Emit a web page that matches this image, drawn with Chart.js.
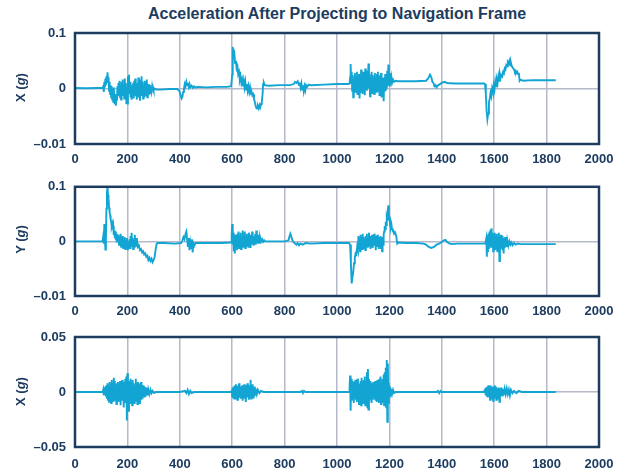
<!DOCTYPE html>
<html>
<head>
<meta charset="utf-8">
<script src="https://cdn.jsdelivr.net/npm/chart.js@4/dist/chart.umd.min.js"></script>
<style>
  body { margin: 0; background: #fff; }
  #wrap { position: relative; width: 626px; height: 476px; font-family: "Liberation Sans", Arial, sans-serif; color: #1d3c60; }
  canvas { position: absolute; left: 0; }
  .title { position: absolute; top: 5px; left: 75px; width: 524px; text-align: center; font-weight: bold; font-size: 16px; }
  .ylab { position: absolute; width: 80px; text-align: center; font-weight: bold; font-size: 13px; transform: rotate(-90deg); }
</style>
</head>
<body>
<div id="wrap">
  <div class="title">Acceleration After Projecting to Navigation Frame</div>
  <canvas id="c1" width="626" height="170" style="top:0"></canvas>
  <canvas id="c2" width="626" height="150" style="top:170px"></canvas>
  <canvas id="c3" width="626" height="156" style="top:320px"></canvas>
  <div class="ylab" style="left:-20px;top:80px">X (<i>g</i>)</div>
  <div class="ylab" style="left:-20px;top:232px">Y (<i>g</i>)</div>
  <div class="ylab" style="left:-20px;top:384px">X (<i>g</i>)</div>
</div>
<script>
// x ticks shared by all three panels
const xTickLabels = ['0','200','400','600','800','1000','1200','1400','1600','1800','2000'];
// y tick labels, bottom -> top (as printed on the original)
const yLabelsTop = ['–0.01', '0', '0.1'];
const yLabelsMid = ['–0.01', '0', '0.1'];
const yLabelsBottom = ['–0.05', '0', '0.05'];

// [sample, value]
const seriesTop = [
  [0,0.001],[40,0.0005],[80,0.001],[105,0.001],
  [108,0.004],[110,-0.006],[112,0.012],[114,0.002],[116,0.018],[118,0.006],[120,0.022],[122,0.010],[124,0.029],[126,0.015],[128,0.020],[130,-0.004],
  [132,0.012],[134,-0.010],[136,0.006],[138,-0.016],[140,0.004],[142,-0.020],[144,-0.002],[146,-0.024],[148,0.002],[150,-0.018],[152,-0.028],[154,-0.010],
  [156,-0.031],[158,-0.012],[160,-0.022],[162,0.004],[164,-0.014],[166,0.010],[168,-0.008],[170,0.014],[172,-0.016],[174,0.006],[176,-0.020],[178,0.012],
  [180,-0.006],[182,0.016],[184,-0.012],[186,0.008],[188,-0.018],[190,0.018],[192,-0.010],[194,0.010],[196,-0.026],[198,0.004],[200,-0.027],[202,0.022],
  [204,-0.008],[206,0.025],[208,-0.004],[210,0.012],[212,-0.016],[214,0.006],[216,-0.020],[218,0.002],[220,-0.012],[222,0.010],[224,-0.018],[226,0.014],
  [228,-0.006],[230,0.018],[232,-0.014],[234,0.004],[236,-0.020],[238,0.010],[240,-0.010],[242,0.020],[244,-0.016],[246,0.008],[248,-0.022],[250,0.016],
  [252,-0.006],[254,0.022],[256,-0.012],[258,0.012],[260,-0.018],[262,0.006],[264,-0.014],[266,0.014],[268,-0.008],[270,0.010],[272,-0.012],[274,0.016],
  [276,-0.016],[278,0.006],[280,-0.010],[282,0.008],[284,-0.006],[286,0.006],[288,-0.008],[290,0.004],[292,-0.004],[294,0.003],[296,-0.004],[298,0.001],
  [300,-0.003],[304,0.000],[310,-0.002],[330,-0.002],[360,-0.001],[390,-0.001],
  [398,-0.004],[403,-0.012],[407,-0.018],[410,-0.015],[413,-0.006],[416,0.000],[419,0.008],[422,0.004],[425,0.012],[428,0.006],[431,0.010],[434,0.003],
  [437,0.008],[440,0.002],[445,0.005],[450,0.001],[455,0.004],[460,0.002],[470,0.003],[500,0.002],[540,0.003],[580,0.003],[596,0.004],
  [600,0.025],[602,0.075],[605,0.060],[608,0.064],[611,0.046],[614,0.050],[617,0.036],[620,0.040],[623,0.026],[626,0.030],[629,0.016],[632,0.022],
  [635,0.010],[638,0.016],[641,0.004],[644,0.014],[647,0.002],[650,0.012],[653,-0.002],[656,0.008],[659,-0.004],[662,0.004],[665,-0.006],[668,0.002],
  [671,-0.008],[674,-0.006],[677,-0.012],[680,-0.010],[683,-0.018],[686,-0.024],[689,-0.030],[692,-0.035],[695,-0.036],[698,-0.032],[701,-0.036],
  [704,-0.030],[707,-0.034],[710,-0.028],[713,-0.024],[716,-0.010],[718,0.008],[721,0.010],[724,0.006],[740,0.005],[780,0.006],[820,0.006],
  [835,0.008],[840,0.012],[845,0.010],[850,0.013],[855,0.006],[858,0.011],[861,0.002],[864,0.009],[867,-0.002],[870,0.006],[873,-0.005],[876,0.004],
  [879,-0.003],[882,0.006],[886,0.003],[892,0.007],[900,0.006],[950,0.007],[1000,0.008],[1045,0.008],
  [1048,0.009],[1050,0.020],[1052,0.044],[1054,0.010],[1056,0.030],[1058,-0.004],[1060,0.024],[1062,-0.016],[1064,0.018],[1066,0.000],[1068,0.028],
  [1070,-0.006],[1072,0.022],[1074,0.004],[1076,0.030],[1078,-0.010],[1080,0.018],[1082,-0.004],[1084,0.026],[1086,-0.018],[1088,0.014],[1090,-0.008],
  [1092,0.034],[1094,0.002],[1096,0.024],[1098,-0.010],[1100,0.030],[1102,0.000],[1104,0.020],[1106,-0.012],[1108,0.036],[1110,0.004],[1112,0.028],
  [1114,-0.004],[1116,0.032],[1118,0.000],[1120,0.045],[1122,0.006],[1124,0.026],[1126,-0.014],[1128,0.022],[1130,-0.002],[1132,0.030],[1134,-0.008],
  [1136,0.024],[1138,0.002],[1140,0.020],[1142,-0.010],[1144,0.028],[1146,0.000],[1148,0.018],[1150,-0.006],[1152,0.026],[1154,0.004],[1156,0.030],
  [1158,-0.004],[1160,0.022],[1162,-0.012],[1164,0.024],[1166,-0.002],[1168,0.028],[1170,-0.016],[1172,0.016],[1174,-0.010],[1176,0.020],[1178,-0.023],
  [1180,0.012],[1182,-0.006],[1184,0.026],[1186,-0.004],[1188,0.022],[1190,0.000],[1192,0.032],[1194,0.004],[1196,0.043],[1198,0.006],[1200,0.028],
  [1202,0.004],[1204,0.020],[1206,0.008],[1208,0.018],[1210,0.010],[1214,0.016],[1218,0.012],[1224,0.014],[1232,0.013],[1250,0.013],[1300,0.013],[1340,0.014],
  [1348,0.018],[1355,0.025],[1360,0.020],[1364,0.012],[1368,0.010],[1372,0.004],[1376,0.006],[1380,0.002],[1384,0.005],[1390,0.007],[1400,0.010],
  [1410,0.012],[1420,0.010],[1450,0.009],[1500,0.009],[1540,0.009],[1562,0.009],
  [1565,0.008],[1568,-0.010],[1571,-0.040],[1574,-0.055],[1577,-0.045],[1580,-0.025],[1583,-0.018],[1586,-0.008],[1589,-0.014],[1592,0.000],[1595,-0.006],
  [1598,0.006],[1601,-0.002],[1604,0.012],[1607,0.004],[1610,0.016],[1613,0.010],[1616,0.022],[1619,0.014],[1622,0.026],[1625,0.020],[1628,0.024],
  [1631,0.022],[1634,0.030],[1637,0.028],[1640,0.036],[1643,0.034],[1646,0.042],[1649,0.040],[1652,0.048],[1655,0.046],[1658,0.050],[1661,0.042],
  [1664,0.046],[1667,0.040],[1670,0.038],[1673,0.036],[1676,0.034],[1679,0.030],[1682,0.032],[1685,0.028],[1688,0.030],[1691,0.026],[1694,0.028],
  [1697,0.014],[1700,0.016],[1710,0.014],[1750,0.015],[1800,0.015],[1835,0.015]
];

const seriesMid = [
  [0,0.000],[50,0.000],[100,0.000],[105,0.000],[108,0.010],[110,-0.004],[112,0.032],[114,0.006],[116,-0.015],[118,0.004],[120,0.060],[122,0.090],
  [124,0.100],[126,0.085],[128,0.078],[130,0.062],[132,0.054],[134,0.048],[136,0.040],[138,0.036],[140,0.028],[142,0.032],[144,0.022],[146,0.028],
  [148,0.012],[150,0.020],[152,0.006],[154,0.018],[156,0.002],[158,0.014],[160,-0.002],[162,0.010],[164,0.000],[166,0.012],[168,-0.006],[170,0.008],
  [172,-0.004],[174,0.014],[176,-0.010],[178,0.006],[180,-0.002],[182,0.010],[184,-0.012],[186,0.004],[188,-0.008],[190,0.008],[192,-0.014],[194,0.002],
  [196,-0.010],[198,0.006],[200,-0.004],[202,-0.016],[204,0.000],[206,-0.010],[208,0.004],[210,-0.012],[212,0.010],[214,-0.006],[216,0.016],[218,-0.008],
  [220,0.006],[222,-0.014],[224,0.002],[226,-0.010],[228,0.012],[230,-0.006],[232,0.004],[234,-0.008],[236,0.006],[238,-0.004],[240,-0.010],[244,-0.008],
  [248,-0.016],[252,-0.014],[256,-0.020],[260,-0.018],[264,-0.024],[268,-0.022],[272,-0.028],[276,-0.026],[280,-0.034],[284,-0.030],[288,-0.036],
  [292,-0.032],[296,-0.038],[300,-0.034],[304,-0.028],[308,-0.014],[312,-0.004],[316,-0.003],[340,-0.003],[380,-0.004],[405,-0.003],
  [410,0.002],[414,0.008],[418,0.004],[422,0.014],[425,0.018],[428,0.004],[431,-0.010],[434,0.006],[437,-0.016],[440,-0.002],[443,-0.012],[446,0.004],
  [449,-0.020],[452,-0.004],[455,-0.008],[460,-0.003],[480,-0.003],[520,-0.003],[560,-0.003],[596,-0.002],
  [598,0.010],[600,0.032],[602,-0.006],[604,0.016],[606,-0.018],[608,0.008],[610,-0.022],[612,0.012],[614,-0.010],[616,0.006],[618,-0.016],[620,0.014],
  [622,-0.008],[624,0.018],[626,-0.012],[628,0.010],[630,-0.004],[632,0.016],[634,-0.014],[636,0.008],[638,-0.006],[640,0.020],[642,-0.010],[644,0.012],
  [646,-0.002],[648,0.018],[650,-0.012],[652,0.006],[654,-0.008],[656,0.014],[658,-0.004],[660,0.010],[662,-0.010],[664,0.016],[666,-0.002],[668,0.008],
  [670,-0.012],[672,0.012],[674,-0.006],[676,0.018],[678,-0.004],[680,0.010],[682,-0.008],[684,0.006],[686,-0.002],[688,0.014],[690,-0.006],[692,0.020],
  [694,0.000],[696,0.012],[698,-0.004],[700,0.008],[702,-0.002],[704,0.006],[706,-0.004],[708,0.004],[710,0.000],[714,0.004],[718,-0.001],[722,0.002],
  [726,0.000],[760,0.000],[800,0.000],[815,0.002],[819,0.010],[822,0.014],[826,0.008],[830,0.002],[835,-0.002],[840,-0.004],[845,-0.006],[850,-0.003],
  [855,-0.007],[860,-0.004],[870,-0.006],[880,-0.003],[900,-0.004],[950,-0.003],[1000,-0.003],[1046,-0.003],
  [1050,-0.006],[1053,-0.040],[1056,-0.077],[1059,-0.066],[1062,-0.056],[1065,-0.040],[1068,-0.030],[1071,-0.022],[1074,-0.024],[1077,-0.010],
  [1080,-0.016],[1082,0.010],[1084,-0.010],[1086,0.006],[1088,-0.018],[1090,0.012],[1092,-0.006],[1094,0.004],[1096,-0.014],[1098,0.014],[1100,-0.004],
  [1102,0.008],[1104,-0.012],[1106,0.004],[1108,-0.016],[1110,0.010],[1112,-0.002],[1114,0.014],[1116,-0.010],[1118,0.006],[1120,-0.008],[1122,0.016],
  [1124,-0.004],[1126,0.008],[1128,-0.014],[1130,0.010],[1132,-0.006],[1134,0.012],[1136,-0.012],[1138,0.004],[1140,-0.008],[1142,0.014],[1144,-0.002],
  [1146,0.006],[1148,-0.016],[1150,0.010],[1152,-0.006],[1154,0.012],[1156,-0.010],[1158,0.004],[1160,-0.014],[1162,0.008],[1164,-0.004],[1166,0.010],
  [1168,-0.012],[1170,0.006],[1172,-0.018],[1174,0.008],[1176,-0.006],[1178,0.012],[1180,0.018],[1182,0.028],[1184,0.022],[1186,0.036],[1188,0.030],
  [1190,0.044],[1192,0.040],[1194,0.056],[1196,0.066],[1198,0.050],[1200,0.044],[1202,0.034],[1204,0.036],[1206,0.026],[1208,0.030],[1210,0.022],
  [1212,0.024],[1214,0.018],[1216,0.020],[1218,0.014],[1222,0.016],[1226,0.010],[1230,-0.004],[1234,-0.002],[1260,-0.003],[1300,-0.003],[1330,-0.004],
  [1340,-0.006],[1350,-0.010],[1360,-0.012],[1370,-0.010],[1380,-0.006],[1390,-0.004],[1400,-0.001],[1408,0.002],[1414,0.003],[1420,-0.001],[1430,-0.004],
  [1440,-0.005],[1460,-0.004],[1500,-0.004],[1540,-0.004],[1566,-0.004],
  [1568,-0.004],[1570,0.006],[1572,-0.028],[1574,0.010],[1576,-0.020],[1578,0.014],[1580,-0.014],[1582,0.018],[1584,-0.006],[1586,0.022],[1588,-0.010],
  [1590,0.024],[1592,-0.004],[1594,0.016],[1596,-0.018],[1598,0.012],[1600,-0.008],[1602,0.016],[1604,-0.014],[1606,0.010],[1608,-0.006],[1610,0.014],
  [1612,-0.018],[1614,0.008],[1616,-0.010],[1618,0.016],[1620,-0.036],[1622,0.006],[1624,-0.014],[1626,0.012],[1628,-0.008],[1630,0.010],[1632,-0.016],
  [1634,0.006],[1636,-0.022],[1638,0.004],[1640,-0.012],[1642,0.008],[1644,-0.006],[1646,0.006],[1648,-0.010],[1650,0.002],[1654,-0.008],[1658,0.000],
  [1662,-0.006],[1666,-0.002],[1670,-0.007],[1676,-0.003],[1682,-0.006],[1690,-0.004],[1700,-0.005],[1720,-0.005],[1760,-0.005],[1800,-0.005],[1835,-0.005]
];

const seriesBottom = [
  [0,0],[50,0],[100,0],[106,0.000],
  [108,0.002],[110,-0.003],[112,0.004],[114,-0.002],[116,0.005],[118,-0.004],[120,0.006],[122,-0.006],[124,0.008],[126,-0.007],[128,0.006],[130,-0.009],
  [132,0.009],[134,-0.005],[136,0.007],[138,-0.010],[140,0.011],[142,-0.006],[144,0.008],[146,-0.008],[148,0.013],[150,-0.004],[152,0.010],[154,-0.007],
  [156,0.006],[158,-0.011],[160,0.008],[162,-0.006],[164,0.009],[166,-0.009],[168,0.007],[170,-0.004],[172,0.010],[174,-0.012],[176,0.006],[178,-0.008],
  [180,0.011],[182,-0.006],[184,0.008],[186,-0.014],[188,0.009],[190,-0.010],[192,0.012],[194,-0.008],[196,0.014],[198,-0.026],[200,0.017],[202,-0.012],
  [204,0.010],[206,-0.018],[208,0.008],[210,-0.010],[212,0.012],[214,-0.006],[216,0.009],[218,-0.012],[220,0.011],[222,-0.007],[224,0.008],[226,-0.010],
  [228,0.006],[230,-0.008],[232,0.012],[234,-0.006],[236,0.007],[238,-0.011],[240,0.009],[242,-0.005],[244,0.008],[246,-0.010],[248,0.006],[250,-0.004],
  [252,0.009],[254,-0.007],[256,0.005],[258,-0.006],[260,0.006],[262,-0.004],[264,0.005],[266,-0.005],[268,0.003],[270,-0.004],[272,0.004],[274,-0.002],
  [276,0.003],[278,-0.003],[280,0.002],[284,-0.002],[288,0.002],[292,-0.001],[296,0.001],[302,-0.001],[310,0.000],[360,0.000],[400,0.000],
  [420,0.001],[425,-0.001],[430,0.002],[435,-0.002],[440,0.001],[445,-0.001],[455,0.000],[500,0.000],[560,0.000],[596,0.000],
  [598,0.002],[600,-0.004],[602,0.004],[604,-0.005],[606,0.005],[608,-0.006],[610,0.006],[612,-0.004],[614,0.007],[616,-0.006],[618,0.005],[620,-0.007],
  [622,0.006],[624,-0.004],[626,0.008],[628,-0.005],[630,0.005],[632,-0.006],[634,0.004],[636,-0.005],[638,0.006],[640,-0.008],[642,0.005],[644,-0.004],
  [646,0.007],[648,-0.006],[650,0.004],[652,-0.009],[654,0.006],[656,-0.005],[658,0.008],[660,-0.004],[662,0.005],[664,-0.007],[666,0.006],[668,-0.003],
  [670,0.011],[672,-0.006],[674,0.005],[676,-0.004],[678,0.007],[680,-0.005],[682,0.004],[684,-0.003],[686,0.005],[688,-0.002],[690,0.003],[694,-0.002],
  [698,0.002],[704,-0.001],[710,0.001],[720,0.000],[800,0.000],[860,0.000],[866,0.001],[870,-0.001],[874,0.001],[880,0.000],[950,0.000],[1000,0.000],[1046,0.000],
  [1048,0.004],[1050,0.015],[1052,-0.017],[1054,0.012],[1056,-0.008],[1058,0.010],[1060,-0.006],[1062,0.008],[1064,-0.010],[1066,0.009],[1068,-0.004],
  [1070,0.011],[1072,-0.007],[1074,0.006],[1076,-0.009],[1078,0.012],[1080,-0.005],[1082,0.008],[1084,-0.011],[1086,0.007],[1088,-0.006],[1090,0.010],
  [1092,-0.012],[1094,0.013],[1096,-0.008],[1098,0.009],[1100,-0.010],[1102,0.011],[1104,-0.007],[1106,0.014],[1108,-0.012],[1110,0.010],[1112,-0.009],
  [1114,0.018],[1116,-0.014],[1118,0.021],[1120,-0.016],[1122,0.012],[1124,-0.008],[1126,0.010],[1128,-0.006],[1130,0.008],[1132,-0.010],[1134,0.006],
  [1136,-0.005],[1138,0.009],[1140,-0.007],[1142,0.007],[1144,-0.004],[1146,0.010],[1148,-0.008],[1150,0.006],[1152,-0.009],[1154,0.011],[1156,-0.006],
  [1158,0.008],[1160,-0.010],[1162,0.012],[1164,-0.008],[1166,0.014],[1168,-0.011],[1170,0.009],[1172,-0.006],[1174,0.012],[1176,-0.009],[1178,0.016],
  [1180,-0.012],[1182,0.018],[1184,-0.008],[1186,0.022],[1188,-0.014],[1190,0.029],[1192,-0.027],[1194,0.026],[1196,-0.010],[1198,0.008],[1200,-0.004],
  [1202,0.005],[1204,-0.003],[1206,0.003],[1210,-0.002],[1214,0.002],[1218,-0.001],[1224,0.000],[1300,0.000],[1380,0.000],[1385,0.001],[1390,-0.001],
  [1395,0.001],[1400,0.000],[1480,0.000],[1560,0.000],
  [1565,0.002],[1568,-0.003],[1570,0.004],[1572,-0.004],[1574,0.005],[1576,-0.005],[1578,0.006],[1580,-0.004],[1582,0.005],[1584,-0.007],[1586,0.006],
  [1588,-0.005],[1590,0.004],[1592,-0.006],[1594,0.005],[1596,-0.008],[1598,0.004],[1600,-0.005],[1602,0.006],[1604,-0.004],[1606,0.005],[1608,-0.007],
  [1610,0.004],[1612,-0.005],[1614,0.003],[1616,-0.006],[1618,0.004],[1620,-0.009],[1622,0.003],[1624,-0.004],[1626,0.004],[1628,-0.003],[1630,0.003],
  [1632,-0.004],[1634,0.002],[1636,-0.003],[1640,0.003],[1644,-0.002],[1648,0.003],[1652,-0.002],[1656,0.002],[1660,-0.003],[1664,0.002],[1670,-0.001],
  [1676,0.001],[1684,-0.001],[1694,0.001],[1705,0.000],[1750,0.000],[1800,0.000],[1835,0.000]
];

const NAVY = '#1d3c60';
const LINE = '#12a5d3';
const GRID = '#b5b9c9';

// full box round the plot area
const framePlugin = {
  id: 'frame',
  afterDatasetsDraw(chart) {
    const a = chart.chartArea, ctx = chart.ctx;
    ctx.save();
    ctx.strokeStyle = NAVY;
    ctx.lineWidth = 2.5;
    ctx.strokeRect(a.left, a.top, a.right - a.left, a.bottom - a.top);
    ctx.restore();
  }
};

function makePanel(id, pairs, yMax, yLabels, padTop, xAxisH, xPad) {
  return new Chart(document.getElementById(id), {
    type: 'line',
    data: {
      datasets: [{
        data: pairs.map(p => ({ x: p[0], y: p[1] })),
        borderColor: LINE,
        borderWidth: 1.9,
        pointRadius: 0,
        tension: 0,
        fill: false
      }]
    },
    options: {
      responsive: false,
      animation: false,
      devicePixelRatio: 1,
      layout: { padding: { top: padTop, right: 27, left: 0, bottom: 0 } },
      plugins: { legend: { display: false }, tooltip: { enabled: false } },
      scales: {
        x: {
          type: 'linear', min: 0, max: 2000,
          afterFit: s => { s.height = xAxisH; },
          grid: { color: GRID, lineWidth: 1.5, drawTicks: false },
          border: { display: false },
          ticks: {
            stepSize: 200, padding: xPad, maxRotation: 0, autoSkip: false,
            color: NAVY, font: { family: 'Liberation Sans', size: 13, weight: 'bold' },
            callback: (v, i) => xTickLabels[i]
          }
        },
        y: {
          min: -yMax, max: yMax,
          afterFit: s => { s.width = 75; },
          grid: { color: GRID, lineWidth: 1.5, drawTicks: false },
          border: { display: false },
          ticks: {
            stepSize: yMax, padding: 9,
            color: NAVY, font: { family: 'Liberation Sans', size: 13, weight: 'bold' },
            callback: (v, i) => yLabels[i]
          }
        }
      }
    },
    plugins: [framePlugin]
  });
}

makePanel('c1', seriesTop, 0.1, yLabelsTop, 33, 26, 8);
makePanel('c2', seriesMid, 0.1, yLabelsMid, 15, 24, 8);
makePanel('c3', seriesBottom, 0.05, yLabelsBottom, 17, 29, 10);
</script>
</body>
</html>
